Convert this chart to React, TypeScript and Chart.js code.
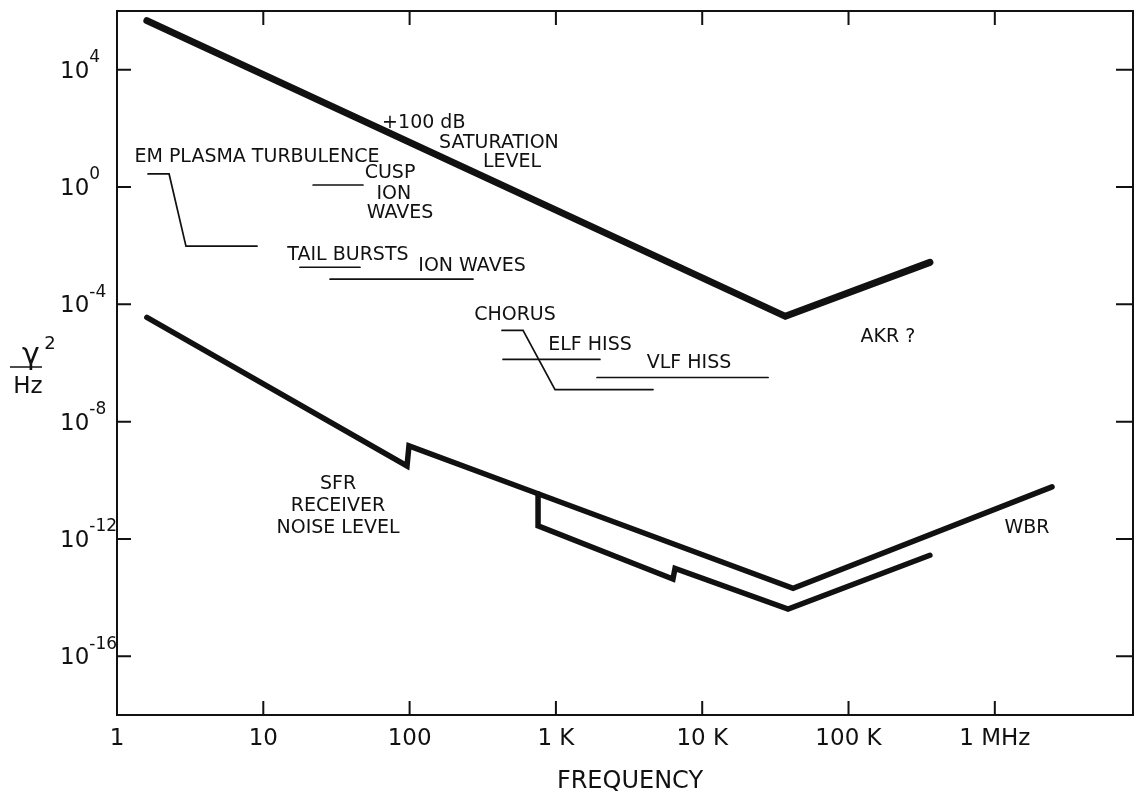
import { useEffect, useRef } from "react";
import { Chart, registerables } from "chart.js";

Chart.register(...registerables);

// ---------- data (frequency in Hz, spectral density in γ²/Hz) ----------
const satFreq = [1.6, 3.7e4, 3.6e5];
const satLevel = [4.7e5, 3.9e-5, 2.7e-3];

const sfrFreq = [1.6, 96, 99, 755, 4.18e4, 2.46e6];
const sfrLevel = [3.6e-5, 3.1e-10, 1.5e-9, 3.5e-11, 2.1e-14, 6.0e-11];

const lowFreq = [755, 755, 6310, 6520, 3.86e4, 3.6e5];
const lowLevel = [3.5e-11, 2.8e-12, 4.3e-14, 1.0e-13, 4.1e-15, 2.8e-13];

const emFreq = [1.63, 2.27, 2.96, 9.06];
const emLevel = [2.78, 2.78, 9.6e-3, 9.6e-3];

const cuspFreq = [21.9, 48];
const cuspLevel = [1.17, 1.17];

const tailFreq = [17.8, 45.8];
const tailLevel = [1.84e-3, 1.84e-3];

const ionFreq = [28.6, 271];
const ionLevel = [7.2e-4, 7.2e-4];

const chorusFreq = [428, 596, 986, 4610];
const chorusLevel = [1.29e-5, 1.29e-5, 1.24e-7, 1.24e-7];

const elfFreq = [435, 2000];
const elfLevel = [1.32e-6, 1.32e-6];

const vlfFreq = [1910, 28200];
const vlfLevel = [3.2e-7, 3.2e-7];

// ---------- tick labels ----------
const xTickValues = [1, 10, 100, 1e3, 1e4, 1e5, 1e6];
const xTickLabels = ["1", "10", "100", "1 K", "10 K", "100 K", "1 MHz"];
const yTickValues = [1e4, 1, 1e-4, 1e-8, 1e-12, 1e-16];
const yTickExponents = ["4", "0", "-4", "-8", "-12", "-16"];

// ---------- annotation texts (anchored in data space) ----------
const labelTexts = [
  "+100 dB", "SATURATION", "LEVEL", "EM PLASMA TURBULENCE", "CUSP", "ION", "WAVES",
  "TAIL BURSTS", "ION WAVES", "CHORUS", "ELF HISS", "VLF HISS", "AKR ?", "WBR",
  "SFR", "RECEIVER", "NOISE LEVEL",
];
const labelFreq = [125, 408, 501, 9.06, 73.5, 78, 86, 37.9, 267, 525, 1710, 8130, 1.86e5, 1.66e6, 32.4, 32.4, 32.4];
const labelLevel = [155, 31.9, 7.2, 10.6, 3.0, 0.58, 0.129, 4.7e-3, 2.0e-3, 4.2e-5, 4.0e-6, 9.6e-7, 7.4e-6, 2.4e-12, 7.6e-11, 1.35e-11, 2.4e-12];

const W = 1139;
const H = 796;
const FONT = "'DejaVu Sans', sans-serif";
const INK = "#111";

function pts(fs: number[], vs: number[]) {
  return fs.map((f, i) => ({ x: f, y: vs[i] }));
}

function line(label: string, data: { x: number; y: number }[], width: number) {
  return {
    label,
    data,
    borderColor: INK,
    backgroundColor: INK,
    borderWidth: width,
    pointRadius: 0,
    fill: false,
    tension: 0,
    borderCapStyle: "round" as const,
    borderJoinStyle: "miter" as const,
  };
}

export default function App() {
  const ref = useRef<HTMLCanvasElement>(null);

  useEffect(() => {
    const canvas = ref.current;
    if (!canvas) return;

    const decor = {
      id: "decor",
      beforeDatasetsDraw(chart: any) {
        const { ctx, chartArea: a } = chart;
        const xs = chart.scales.x;
        const ys = chart.scales.y;
        ctx.save();
        ctx.strokeStyle = INK;
        ctx.lineWidth = 2;
        ctx.strokeRect(a.left, a.top, a.right - a.left, a.bottom - a.top);
        ctx.beginPath();
        xTickValues.forEach((v) => {
          if (v === 1) return;
          const px = xs.getPixelForValue(v);
          ctx.moveTo(px, a.bottom);
          ctx.lineTo(px, a.bottom - 14);
          ctx.moveTo(px, a.top);
          ctx.lineTo(px, a.top + 14);
        });
        yTickValues.forEach((v) => {
          const py = ys.getPixelForValue(v);
          ctx.moveTo(a.left, py);
          ctx.lineTo(a.left + 14, py);
          ctx.moveTo(a.right, py);
          ctx.lineTo(a.right - 17, py);
        });
        ctx.stroke();

        ctx.fillStyle = INK;
        // x tick labels
        ctx.font = `23px ${FONT}`;
        ctx.textAlign = "center";
        ctx.textBaseline = "middle";
        xTickValues.forEach((v, i) => {
          const px = xs.getPixelForValue(v);
          ctx.fillText(xTickLabels[i], px, a.bottom + 24);
        });
        // y tick labels: 10 with superscript exponent
        yTickValues.forEach((v, i) => {
          const py = ys.getPixelForValue(v);
          ctx.font = `23px ${FONT}`;
          ctx.textAlign = "left";
          const w = ctx.measureText("10").width;
          ctx.fillText("10", 60, py + 2);
          ctx.font = `17px ${FONT}`;
          ctx.fillText(yTickExponents[i], 60 + w, py - 12);
        });
        // x title
        ctx.font = `24px ${FONT}`;
        ctx.textAlign = "center";
        ctx.fillText("FREQUENCY", 630, 782);
        // y title: γ² / Hz
        ctx.font = `30px ${FONT}`;
        ctx.fillText("γ", 31, 356);
        ctx.font = `18px ${FONT}`;
        ctx.fillText("2", 50, 344);
        ctx.font = `23px ${FONT}`;
        ctx.fillText("Hz", 28, 387);
        ctx.lineWidth = 1.5;
        ctx.beginPath();
        ctx.moveTo(10, 367);
        ctx.lineTo(42, 367);
        ctx.stroke();
        ctx.restore();
      },
      afterDatasetsDraw(chart: any) {
        const { ctx } = chart;
        const xs = chart.scales.x;
        const ys = chart.scales.y;
        ctx.save();
        ctx.fillStyle = INK;
        ctx.font = `19px ${FONT}`;
        ctx.textAlign = "center";
        ctx.textBaseline = "middle";
        labelTexts.forEach((t, i) => {
          ctx.fillText(t, xs.getPixelForValue(labelFreq[i]), ys.getPixelForValue(labelLevel[i]));
        });
        ctx.restore();
      },
    };

    const chart = new Chart(canvas, {
      type: "line",
      data: {
        datasets: [
          line("Saturation level", pts(satFreq, satLevel), 7),
          line("SFR receiver noise level / WBR", pts(sfrFreq, sfrLevel), 5.5),
          line("Lower noise branch", pts(lowFreq, lowLevel), 5.5),
          line("EM plasma turbulence", pts(emFreq, emLevel), 1.7),
          line("Cusp ion waves", pts(cuspFreq, cuspLevel), 1.7),
          line("Tail bursts", pts(tailFreq, tailLevel), 1.7),
          line("Ion waves", pts(ionFreq, ionLevel), 1.7),
          line("Chorus", pts(chorusFreq, chorusLevel), 1.7),
          line("ELF hiss", pts(elfFreq, elfLevel), 1.7),
          line("VLF hiss", pts(vlfFreq, vlfLevel), 1.7),
        ] as any,
      },
      options: {
        responsive: false,
        maintainAspectRatio: false,
        animation: false,
        events: [],
        layout: { padding: { left: 117, right: 6, top: 11, bottom: 81 } },
        plugins: { legend: { display: false }, tooltip: { enabled: false } },
        scales: {
          x: { type: "logarithmic", min: 1, max: 8.8e6, display: false },
          y: { type: "logarithmic", min: 1e-18, max: 1e6, display: false },
        },
      },
      plugins: [decor],
    });
    return () => chart.destroy();
  }, []);

  return (
    <div style={{ position: "fixed", left: 0, top: 0, width: W, height: H, background: "#fff" }}>
      <canvas ref={ref} width={W} height={H} style={{ display: "block" }} />
    </div>
  );
}
